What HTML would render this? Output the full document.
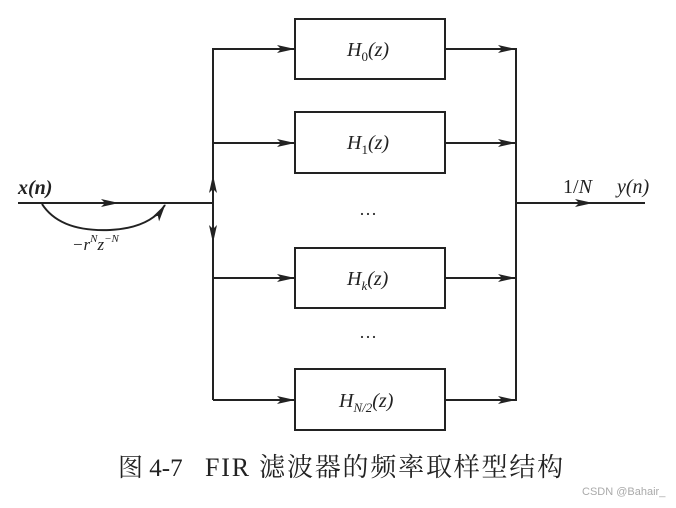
<!DOCTYPE html>
<html><head><meta charset="utf-8"><style>
body{margin:0;background:#fff;}
svg text{font-family:"Liberation Serif","Noto Serif CJK SC",serif;fill:#222;}
</style></head><body>
<svg width="676" height="503" viewBox="0 0 676 503" xmlns="http://www.w3.org/2000/svg">
<defs><marker id="a" markerWidth="18" markerHeight="10" refX="17" refY="5" orient="auto" markerUnits="userSpaceOnUse"><path d="M0,1 L18,5 L0,9 L4,5 Z" fill="#222"/></marker></defs>
<g stroke="#222" stroke-width="2" fill="none">
<line x1="18" y1="203" x2="213" y2="203"/>
<line x1="18" y1="203" x2="118" y2="203" marker-end="url(#a)"/>
<path d="M42,204 Q60,232 110,230 Q150,228 165,205" marker-end="url(#a)"/>
<line x1="213" y1="48" x2="213" y2="400"/>
<line x1="213" y1="203" x2="213" y2="176" marker-end="url(#a)"/>
<line x1="213" y1="203" x2="213" y2="242" marker-end="url(#a)"/>
<line x1="213" y1="49" x2="294" y2="49" marker-end="url(#a)"/>
<line x1="213" y1="143" x2="294" y2="143" marker-end="url(#a)"/>
<line x1="213" y1="278" x2="294" y2="278" marker-end="url(#a)"/>
<line x1="213" y1="400" x2="294" y2="400" marker-end="url(#a)"/>
<rect x="295" y="19" width="150" height="60"/>
<rect x="295" y="112" width="150" height="61"/>
<rect x="295" y="248" width="150" height="60"/>
<rect x="295" y="369" width="150" height="61"/>
<line x1="445" y1="49" x2="515" y2="49" marker-end="url(#a)"/>
<line x1="445" y1="143" x2="515" y2="143" marker-end="url(#a)"/>
<line x1="445" y1="278" x2="515" y2="278" marker-end="url(#a)"/>
<line x1="445" y1="400" x2="515" y2="400" marker-end="url(#a)"/>
<line x1="516" y1="48" x2="516" y2="401"/>
<line x1="516" y1="203" x2="645" y2="203"/>
<line x1="516" y1="203" x2="592" y2="203" marker-end="url(#a)"/>
</g>
<g font-size="20" font-style="italic">
<text x="347" y="56">H<tspan font-size="13" font-style="normal" dy="5">0</tspan><tspan dy="-5">(z)</tspan></text>
<text x="347" y="149">H<tspan font-size="13" font-style="normal" dy="5">1</tspan><tspan dy="-5">(z)</tspan></text>
<text x="347" y="285">H<tspan font-size="13" dy="5">k</tspan><tspan dy="-5">(z)</tspan></text>
<text x="339" y="407">H<tspan font-size="13" dy="5">N/2</tspan><tspan dy="-5">(z)</tspan></text>
<text x="18" y="194" font-weight="bold">x(n)</text>
<text x="617" y="193">y(n)</text>
<text x="563" y="193" font-style="normal">1/<tspan font-style="italic">N</tspan></text>
<text x="72" y="250" font-size="17">−r<tspan font-size="11" dy="-8">N</tspan><tspan dy="8">z</tspan><tspan font-size="11" dy="-8">−N</tspan></text>
</g>
<text x="359" y="220" font-size="18">···</text>
<text x="359" y="343" font-size="18">···</text>
<text x="118" y="476" font-size="25">图 4-7</text>
<text x="205" y="476" font-size="26" letter-spacing="1.8">FIR 滤波器的频率取样型结构</text>
<text x="582" y="495" font-size="11" style="font-family:'Liberation Sans',sans-serif;fill:#aaa">CSDN @Bahair_</text>
</svg>
</body></html>
